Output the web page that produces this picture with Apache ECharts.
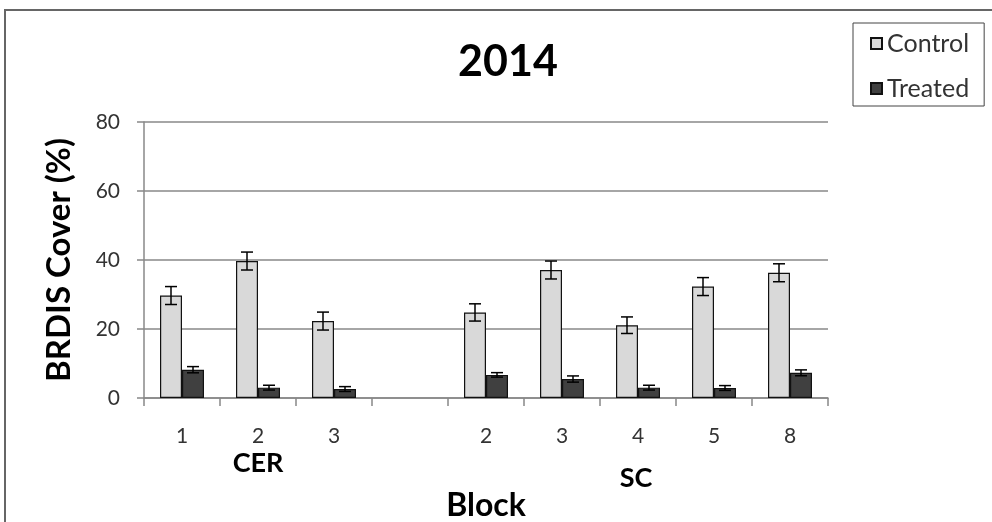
<!DOCTYPE html>
<html>
<head>
<meta charset="utf-8">
<script src="https://cdn.jsdelivr.net/npm/echarts@6/dist/echarts.min.js"></script>
<style>
  html, body { margin: 0; padding: 0; background: #fff; }
  #chart { width: 992px; height: 522px; }
</style>
</head>
<body>
<div id="chart"></div>
<script>
// Block labels along the x axis (blank slot separates the two sites)
const categories = ['1', '2', '3', '', '2', '3', '4', '5', '8'];
// Site names shown under the block numbers
const siteLabels = ['', 'CER', '', '', '', '', 'SC', '', ''];
// Mean BRDIS cover (%) and standard errors
const controlMean = [29.7, 39.7, 22.3, null, 24.8, 37.1, 21.1, 32.3, 36.3];
const controlErr  = [2.6, 2.6, 2.6, null, 2.5, 2.6, 2.4, 2.6, 2.6];
const treatedMean = [8.2, 3.0, 2.6, null, 6.7, 5.5, 3.0, 2.9, 7.3];
const treatedErr  = [0.9, 0.7, 0.7, null, 0.65, 0.9, 0.7, 0.7, 0.85];
const yTicks = [0, 20, 40, 60, 80];

const FONT = 'Lato, "Open Sans", sans-serif';
const BAR_W = 22;

function errData(means, errs) {
  const out = [];
  means.forEach((m, i) => {
    if (m != null) out.push([i, m, errs[i]]);
  });
  return out;
}

function errRenderer(side) {
  return function (params, api) {
    const i = api.value(0), m = api.value(1), e = api.value(2);
    const hi = api.coord([i, m + e]);
    const lo = api.coord([i, m - e]);
    const x = hi[0] + side * BAR_W / 2;
    const cap = 6;
    const style = { stroke: '#000', lineWidth: 1.5 };
    return {
      type: 'group',
      children: [
        { type: 'line', shape: { x1: x, y1: hi[1], x2: x, y2: lo[1] }, style },
        { type: 'line', shape: { x1: x - cap, y1: hi[1], x2: x + cap, y2: hi[1] }, style },
        { type: 'line', shape: { x1: x - cap, y1: lo[1], x2: x + cap, y2: lo[1] }, style }
      ]
    };
  };
}

const chart = echarts.init(document.getElementById('chart'), null, { renderer: 'canvas' });

chart.setOption({
  backgroundColor: '#fff',
  animation: false,
  title: {
    text: '2014',
    left: 503,
    top: 36,
    textAlign: 'center',
    textStyle: { fontFamily: FONT, fontSize: 43, fontWeight: 'bold', color: '#000' }
  },
  legend: {
    data: ['Control', 'Treated'],
    orient: 'vertical',
    left: 853,
    top: 23,
    padding: [8, 15, 5, 17],
    itemGap: 20,
    itemWidth: 11,
    itemHeight: 11,
    icon: 'rect',
    borderColor: '#444',
    borderWidth: 1,
    textStyle: { fontFamily: FONT, fontSize: 25, color: '#333', padding: [0, 0, 0, 0] }
  },
  grid: {
    left: 144, right: 164, top: 122, bottom: 124,
    containLabel: false,
    outerBoundsMode: 'none'
  },
  xAxis: [
    {
      type: 'category',
      data: categories,
      name: 'Block',
      nameLocation: 'middle',
      nameGap: 92,
      nameTextStyle: { fontFamily: FONT, fontSize: 32, fontWeight: 'bold', color: '#000' },
      axisLine: { lineStyle: { color: '#888', width: 1.5 } },
      axisTick: { show: true, length: 8, alignWithLabel: false, lineStyle: { color: '#888', width: 1.5 } },
      axisLabel: { fontFamily: FONT, fontSize: 21, color: '#333', margin: 28, interval: 0 }
    },
    {
      type: 'category',
      data: siteLabels,
      position: 'bottom',
      axisLine: { show: false },
      axisTick: { show: false },
      axisLabel: {
        interval: 0,
        margin: 52,
        formatter: function (v) { return v === 'CER' ? '{c|CER}' : (v === 'SC' ? '{s|SC}' : ''); },
        rich: {
          c: { fontFamily: FONT, fontSize: 27, fontWeight: 'bold', color: '#000', padding: [0, 0, 0, 0] },
          s: { fontFamily: FONT, fontSize: 27, fontWeight: 'bold', color: '#000', padding: [15, 4, 0, 0] }
        }
      }
    }
  ],
  yAxis: {
    type: 'value',
    min: yTicks[0],
    max: yTicks[yTicks.length - 1],
    interval: 20,
    name: 'BRDIS Cover (%)',
    nameLocation: 'middle',
    nameGap: 68,
    nameRotate: 90,
    nameTextStyle: { fontFamily: FONT, fontSize: 33, fontWeight: 'bold', color: '#000' },
    axisLine: { show: true, lineStyle: { color: '#888', width: 1.5 } },
    axisTick: { show: true, length: 7, lineStyle: { color: '#888', width: 1.5 } },
    axisLabel: { fontFamily: FONT, fontSize: 21, color: '#333', margin: 24 },
    splitLine: { show: true, lineStyle: { color: '#888', width: 1.5 } }
  },
  series: [
    {
      name: 'Control',
      type: 'bar',
      data: controlMean,
      barWidth: BAR_W,
      barGap: '0%',
      itemStyle: { color: '#d9d9d9', borderColor: '#111', borderWidth: 1.2 },
      z: 2
    },
    {
      name: 'Treated',
      type: 'bar',
      data: treatedMean,
      barWidth: BAR_W,
      barGap: '0%',
      itemStyle: { color: '#404040', borderColor: '#111', borderWidth: 1.2 },
      z: 2
    },
    {
      name: 'Control error',
      type: 'custom',
      data: errData(controlMean, controlErr),
      renderItem: errRenderer(-1),
      z: 3,
      silent: true
    },
    {
      name: 'Treated error',
      type: 'custom',
      data: errData(treatedMean, treatedErr),
      renderItem: errRenderer(1),
      z: 3,
      silent: true
    }
  ],
  graphic: [
    {
      type: 'rect',
      shape: { x: 5, y: 10, width: 1000, height: 600 },
      style: { fill: 'none', stroke: '#666', lineWidth: 2 },
      silent: true,
      z: 0
    }
  ]
});
</script>
</body>
</html>
